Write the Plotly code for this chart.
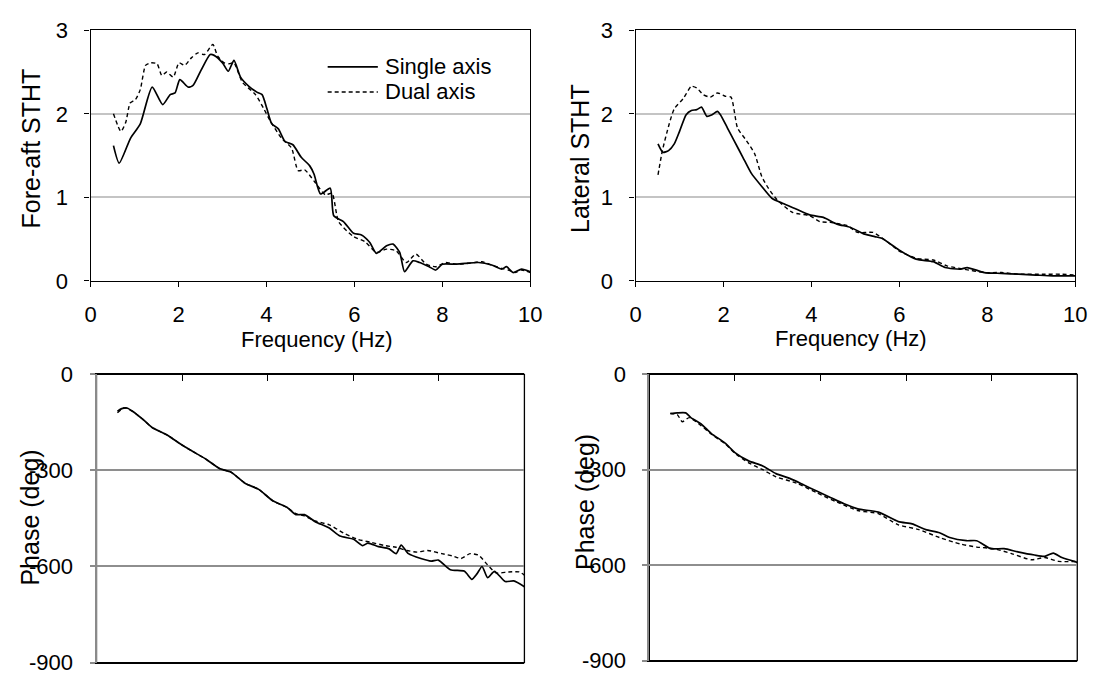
import plotly.graph_objects as go

# ---------------- data ----------------
# Top-left: Fore-aft STHT
fa_single_f = [0.52, 0.65, 0.91, 1.13, 1.40, 1.64, 1.81, 1.92, 2.03, 2.22, 2.33, 2.51, 2.72, 2.81, 3.00, 3.13, 3.26, 3.41, 3.60, 3.78, 3.90, 4.01, 4.12, 4.27, 4.42, 4.60, 4.79, 4.98, 5.08, 5.23, 5.45, 5.53, 5.75, 5.98, 6.16, 6.35, 6.50, 6.73, 6.88, 7.03, 7.14, 7.33, 7.48, 7.70, 7.85, 8.00, 8.30, 8.52, 8.82, 9.12, 9.35, 9.46, 9.61, 9.80, 10.0]
fa_single_v = [1.62, 1.41, 1.71, 1.88, 2.32, 2.11, 2.23, 2.25, 2.41, 2.32, 2.34, 2.52, 2.71, 2.70, 2.61, 2.51, 2.64, 2.44, 2.33, 2.26, 2.23, 2.06, 1.88, 1.82, 1.67, 1.63, 1.48, 1.38, 1.28, 1.04, 1.11, 0.78, 0.71, 0.57, 0.55, 0.46, 0.33, 0.42, 0.44, 0.34, 0.11, 0.24, 0.22, 0.17, 0.13, 0.20, 0.20, 0.21, 0.22, 0.19, 0.14, 0.17, 0.10, 0.14, 0.11]
fa_dual_f = [0.52, 0.69, 0.80, 0.90, 1.02, 1.13, 1.25, 1.36, 1.51, 1.62, 1.73, 1.88, 2.01, 2.14, 2.29, 2.44, 2.59, 2.78, 2.89, 3.04, 3.15, 3.26, 3.45, 3.75, 3.93, 4.08, 4.34, 4.57, 4.72, 4.87, 5.09, 5.34, 5.49, 5.64, 5.98, 6.24, 6.50, 6.73, 6.95, 7.18, 7.40, 7.63, 7.85, 8.07, 8.30, 8.60, 8.90, 9.12, 9.35, 9.50, 9.65, 9.80, 10.0]
fa_dual_v = [2.00, 1.79, 1.90, 2.13, 2.17, 2.29, 2.58, 2.61, 2.60, 2.46, 2.50, 2.44, 2.61, 2.58, 2.67, 2.73, 2.71, 2.83, 2.69, 2.61, 2.60, 2.61, 2.38, 2.23, 2.07, 1.92, 1.71, 1.59, 1.32, 1.33, 1.19, 1.03, 1.05, 0.71, 0.53, 0.47, 0.34, 0.38, 0.36, 0.22, 0.32, 0.20, 0.17, 0.22, 0.20, 0.21, 0.23, 0.19, 0.15, 0.13, 0.10, 0.13, 0.10]

# Top-right: Lateral STHT
lat_single_f = [0.51, 0.62, 0.75, 0.88, 1.00, 1.15, 1.27, 1.39, 1.50, 1.62, 1.74, 1.86, 1.93, 2.09, 2.24, 2.44, 2.63, 2.87, 3.10, 3.34, 3.65, 3.96, 4.27, 4.58, 4.89, 5.21, 5.44, 5.60, 5.99, 6.38, 6.77, 7.04, 7.39, 7.54, 7.93, 8.32, 8.71, 9.10, 9.49, 10.0]
lat_single_v = [1.64, 1.54, 1.56, 1.64, 1.79, 1.99, 2.04, 2.05, 2.08, 1.97, 1.99, 2.03, 1.99, 1.83, 1.68, 1.48, 1.29, 1.13, 0.99, 0.93, 0.86, 0.79, 0.76, 0.68, 0.64, 0.56, 0.53, 0.51, 0.37, 0.26, 0.23, 0.16, 0.14, 0.16, 0.10, 0.09, 0.08, 0.07, 0.06, 0.06]
lat_dual_f = [0.51, 0.61, 0.76, 0.88, 1.08, 1.27, 1.39, 1.54, 1.70, 1.86, 2.05, 2.17, 2.32, 2.52, 2.71, 2.87, 3.02, 3.22, 3.57, 3.96, 4.19, 4.43, 4.82, 5.05, 5.40, 5.67, 5.99, 6.38, 6.77, 7.08, 7.47, 7.93, 8.32, 8.71, 9.26, 9.65, 10.0]
lat_dual_v = [1.27, 1.56, 1.87, 2.06, 2.18, 2.33, 2.31, 2.23, 2.20, 2.25, 2.21, 2.20, 1.83, 1.68, 1.52, 1.25, 1.11, 0.97, 0.82, 0.78, 0.71, 0.70, 0.66, 0.58, 0.58, 0.49, 0.36, 0.27, 0.25, 0.18, 0.14, 0.10, 0.10, 0.08, 0.08, 0.08, 0.07]

# Bottom-left: fore-aft phase (deg)
fph_single_f = [0.49, 0.59, 0.71, 0.84, 1.08, 1.29, 1.66, 1.99, 2.24, 2.56, 2.89, 3.14, 3.47, 3.80, 4.12, 4.45, 4.66, 4.86, 5.11, 5.44, 5.69, 6.01, 6.22, 6.34, 6.59, 6.84, 7.00, 7.12, 7.29, 7.58, 7.82, 7.99, 8.27, 8.60, 8.77, 8.89, 9.01, 9.14, 9.30, 9.55, 9.75, 10.0]
fph_single_v = [-115, -107, -105, -115, -140, -165, -190, -220, -240, -265, -295, -305, -340, -360, -395, -415, -438, -438, -460, -480, -505, -515, -535, -527, -538, -545, -560, -533, -560, -575, -583, -580, -610, -615, -640, -623, -600, -635, -615, -647, -645, -663]
fph_dual_f = [0.49, 0.63, 0.71, 0.84, 1.08, 1.29, 1.66, 1.99, 2.24, 2.56, 2.89, 3.14, 3.47, 3.80, 4.12, 4.45, 4.66, 4.86, 5.11, 5.44, 5.77, 6.10, 6.43, 6.75, 7.00, 7.25, 7.49, 7.74, 8.07, 8.32, 8.52, 8.73, 8.93, 9.14, 9.34, 9.63, 9.88, 10.0]
fph_dual_v = [-120, -105, -106, -115, -140, -165, -190, -220, -240, -265, -295, -305, -340, -360, -395, -415, -435, -442, -458, -470, -495, -515, -525, -535, -540, -550, -555, -550, -560, -567, -575, -560, -565, -595, -620, -617, -617, -627]

# Bottom-right: lateral phase (deg)
lph_single_f = [0.49, 0.65, 0.85, 0.97, 1.21, 1.45, 1.77, 2.00, 2.32, 2.64, 2.96, 3.28, 3.60, 3.91, 4.23, 4.55, 4.87, 5.35, 5.82, 6.14, 6.46, 6.78, 7.02, 7.41, 7.65, 7.97, 8.29, 8.61, 9.00, 9.24, 9.44, 9.64, 10.0]
lph_single_v = [-123, -121, -121, -136, -156, -186, -216, -246, -272, -287, -312, -327, -347, -367, -387, -407, -423, -433, -463, -470, -488, -498, -513, -523, -523, -548, -548, -558, -568, -572, -562, -576, -591]
lph_dual_f = [0.49, 0.65, 0.77, 0.93, 1.21, 1.45, 1.77, 2.00, 2.32, 2.64, 2.96, 3.44, 3.91, 4.39, 4.87, 5.35, 5.82, 6.30, 6.78, 7.26, 7.65, 8.05, 8.45, 8.93, 9.24, 9.56, 10.0]
lph_dual_v = [-123, -126, -149, -136, -161, -188, -218, -248, -278, -299, -322, -342, -372, -402, -428, -438, -473, -488, -513, -533, -543, -548, -563, -583, -576, -588, -588]

# tick labels
stht_ticks = [0, 1, 2, 3]
freq_ticks = [0, 2, 4, 6, 8, 10]
phase_ticks = [-900, -600, -300, 0]
phase_labels = ["-900", "-600", "-300", "0"]

# ---------------- figure ----------------
FONT = "Liberation Sans, Arial, sans-serif"
fig = go.Figure()

solid = dict(color="black", width=1.7, shape="spline", smoothing=0.6)
dashed = dict(color="black", width=1.4, dash="4px,3px", shape="spline", smoothing=0.6)

pairs = [
    ("x", "y", fa_single_f, fa_single_v, fa_dual_f, fa_dual_v),
    ("x2", "y2", lat_single_f, lat_single_v, lat_dual_f, lat_dual_v),
    ("x3", "y3", fph_single_f, fph_single_v, fph_dual_f, fph_dual_v),
    ("x4", "y4", lph_single_f, lph_single_v, lph_dual_f, lph_dual_v),
]
for xa, ya, sf, sv, df, dv in pairs:
    fig.add_trace(go.Scatter(x=df, y=dv, mode="lines", line=dashed, xaxis=xa, yaxis=ya,
                             name="Dual axis", showlegend=False, hoverinfo="skip"))
    fig.add_trace(go.Scatter(x=sf, y=sv, mode="lines", line=solid, xaxis=xa, yaxis=ya,
                             name="Single axis", showlegend=False, hoverinfo="skip"))

W, H = 1105, 690
def px(a, b):
    return [a / W, b / W]
def py(top, bottom):
    return [1 - bottom / H, 1 - top / H]

tick_font = dict(family=FONT, size=22, color="black")

top_x = dict(range=[0, 10], tickvals=freq_ticks, showgrid=False, zeroline=False,
             showline=True, linecolor="black", linewidth=1.3, mirror=True,
             ticks="outside", ticklen=5, tickcolor="black", tickwidth=1.3,
             tickfont=tick_font, ticklabelstandoff=9)
top_y = dict(range=[0, 3], tickvals=stht_ticks, showgrid=True, gridcolor="#c4c4c4", gridwidth=1.5,
             zeroline=False, showline=True, linecolor="black", linewidth=1.3, mirror=True,
             ticks="outside", ticklen=5, tickcolor="black", tickwidth=1.3,
             tickfont=tick_font, ticklabelstandoff=12)
bot_x = dict(range=[0, 10], tickvals=freq_ticks, side="top", showgrid=False, zeroline=False,
             showline=True, linecolor="black", linewidth=1.3, mirror=True,
             ticks="inside", ticklen=6, tickcolor="black", tickwidth=1.3, showticklabels=False)
bot_y = dict(range=[-900, 0], tickvals=phase_ticks, ticktext=phase_labels,
             showgrid=True, gridcolor="#8e8e8e", gridwidth=1.5,
             zeroline=False, showline=True, linecolor="#8a8a8a", linewidth=2,
             ticks="outside", ticklen=5, tickcolor="#8a8a8a", tickwidth=2,
             tickfont=tick_font, ticklabelstandoff=12)

fig.update_layout(
    width=W, height=H, margin=dict(l=0, r=0, t=0, b=0),
    paper_bgcolor="white", plot_bgcolor="white", showlegend=False,
    font=dict(family=FONT, color="black"),
    xaxis=dict(top_x, domain=px(86, 533), anchor="y"),
    yaxis=dict(top_y, domain=py(19, 279), anchor="x"),
    xaxis2=dict(top_x, domain=px(640, 1087), anchor="y2"),
    yaxis2=dict(top_y, domain=py(19, 279), anchor="x2"),
    xaxis3=dict(bot_x, domain=px(92, 527), anchor="y3"),
    yaxis3=dict(bot_y, domain=py(376, 675), anchor="x3"),
    xaxis4=dict(bot_x, domain=px(654, 1089), anchor="y4"),
    yaxis4=dict(bot_y, domain=py(376, 673), anchor="x4"),
)

# black frame for the phase plots (left axis line drawn grey on top)
for xr, yr in [("x3", "y3"), ("x4", "y4")]:
    fig.add_shape(type="rect", xref=f"{xr} domain", yref=f"{yr} domain",
                  x0=0, x1=1, y0=0, y1=1, line=dict(color="black", width=1.3), layer="below")

# axis titles
def ann(text, x, y, size, angle=0):
    fig.add_annotation(text=text, x=x / W, y=1 - y / H, xref="paper", yref="paper",
                       showarrow=False, textangle=angle, xanchor="center", yanchor="middle",
                       font=dict(family=FONT, size=size, color="black"))

ann("Frequency (Hz)", 316, 340, 22)
ann("Frequency (Hz)", 859, 339, 22)
ann("Fore-aft STHT", 25, 142, 25, -90)
ann("Lateral STHT", 584, 152, 25, -90)
ann("Phase (deg)", 24, 525, 25, -90)
ann("Phase (deg)", 588, 508, 25, -90)

# legend (top-left panel)
legend_items = [("Single axis", 57, None, 1.7), ("Dual axis", 83, "4px,3px", 1.4)]
for label, yy, dash, w in legend_items:
    fig.add_shape(type="line", xref="paper", yref="paper",
                  x0=327 / W, x1=378 / W, y0=1 - yy / H, y1=1 - yy / H,
                  line=dict(color="black", width=w, dash=dash))
    fig.add_annotation(text=label, x=383 / W, y=1 - yy / H, xref="paper", yref="paper",
                       showarrow=False, xanchor="left", yanchor="middle",
                       font=dict(family=FONT, size=22, color="black"))

fig.write_html("out.html")
